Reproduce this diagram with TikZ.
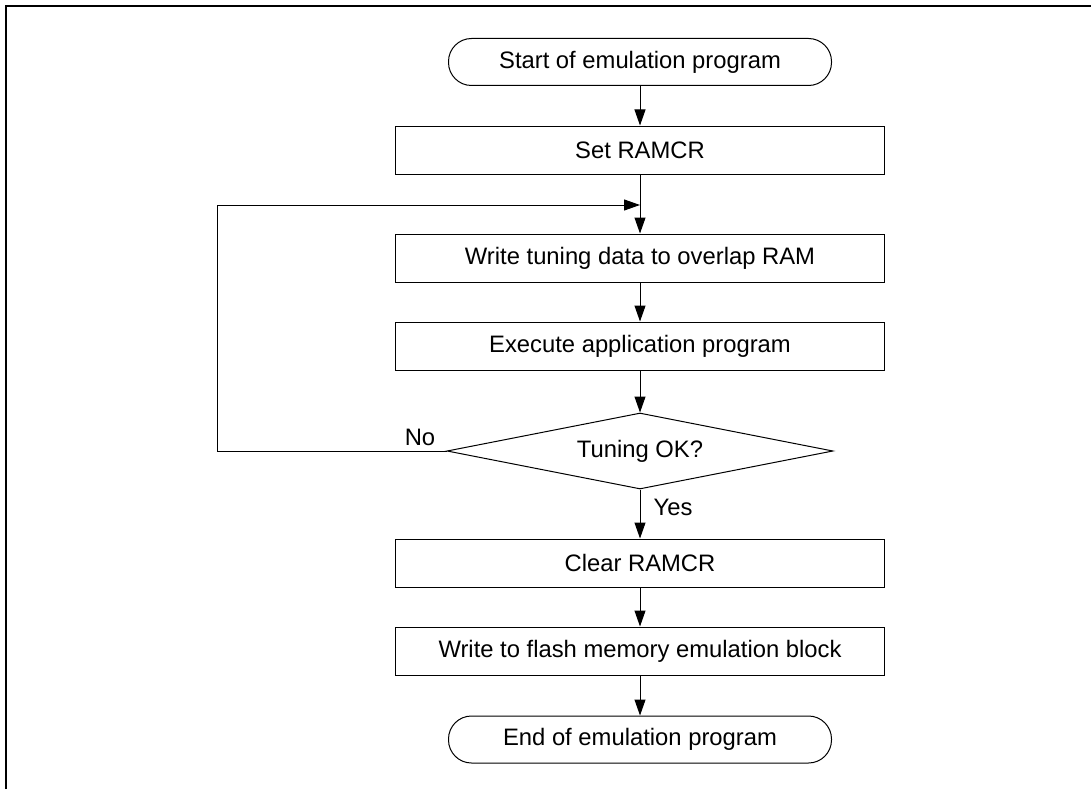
\documentclass[tikz,border=0pt]{standalone}
\usepackage{fontspec}
\setmainfont{Liberation Sans}
\usetikzlibrary{arrows.meta,shapes.geometric}
\begin{document}
\begin{tikzpicture}[x=1pt,y=-1pt,
  every node/.style={font=\fontsize{23.8}{28}\selectfont},
  procbox/.style={draw, line width=1pt, minimum width=489pt, minimum height=48pt, inner sep=0pt},
  termbox/.style={draw, line width=1pt, rounded corners=23pt, minimum width=383pt, minimum height=47pt, inner sep=0pt},
  decbox/.style={draw, line width=1pt, diamond, shape aspect=5.08, minimum width=386pt, minimum height=76pt, inner sep=0pt},
  flow/.style={line width=1pt, -{Triangle[length=16pt,width=11pt]}},
  lbl/.style={inner sep=0pt}
]
\useasboundingbox (0,0) rectangle (1091,789);
\draw[line width=1.4pt] (6,789) -- (6,6) -- (1091,6);

\node[termbox] (start) at (640,62) {Start of emulation program};
\node[procbox] (set) at (640,150) {Set RAMCR};
\node[procbox] (write) at (640,258) {Write tuning data to overlap RAM};
\node[procbox] (exec) at (640,346) {Execute application program};
\node[decbox] (dec) at (640,451) {Tuning OK?};
\node[procbox] (clear) at (640,563) {Clear RAMCR};
\node[procbox] (flash) at (640,651) {Write to flash memory emulation block};
\node[termbox] (end) at (640,739.5) {End of emulation program};

\coordinate (loopin) at (640,205);
\coordinate (loopcorner) at (217,451);

\draw[flow] (start) -- (set);
\draw[flow] (set) -- (write);
\draw[flow] (write) -- (exec);
\draw[flow] (exec) -- (dec);
\draw[flow] (dec) -- (clear);
\draw[flow] (clear) -- (flash);
\draw[flow] (flash) -- (end);
\draw[flow] (dec.west) -- (loopcorner) |- (loopin);

\node[lbl] (no) at (420,437) {No};
\node[lbl] (yes) at (673,507) {Yes};
\end{tikzpicture}
\end{document}
